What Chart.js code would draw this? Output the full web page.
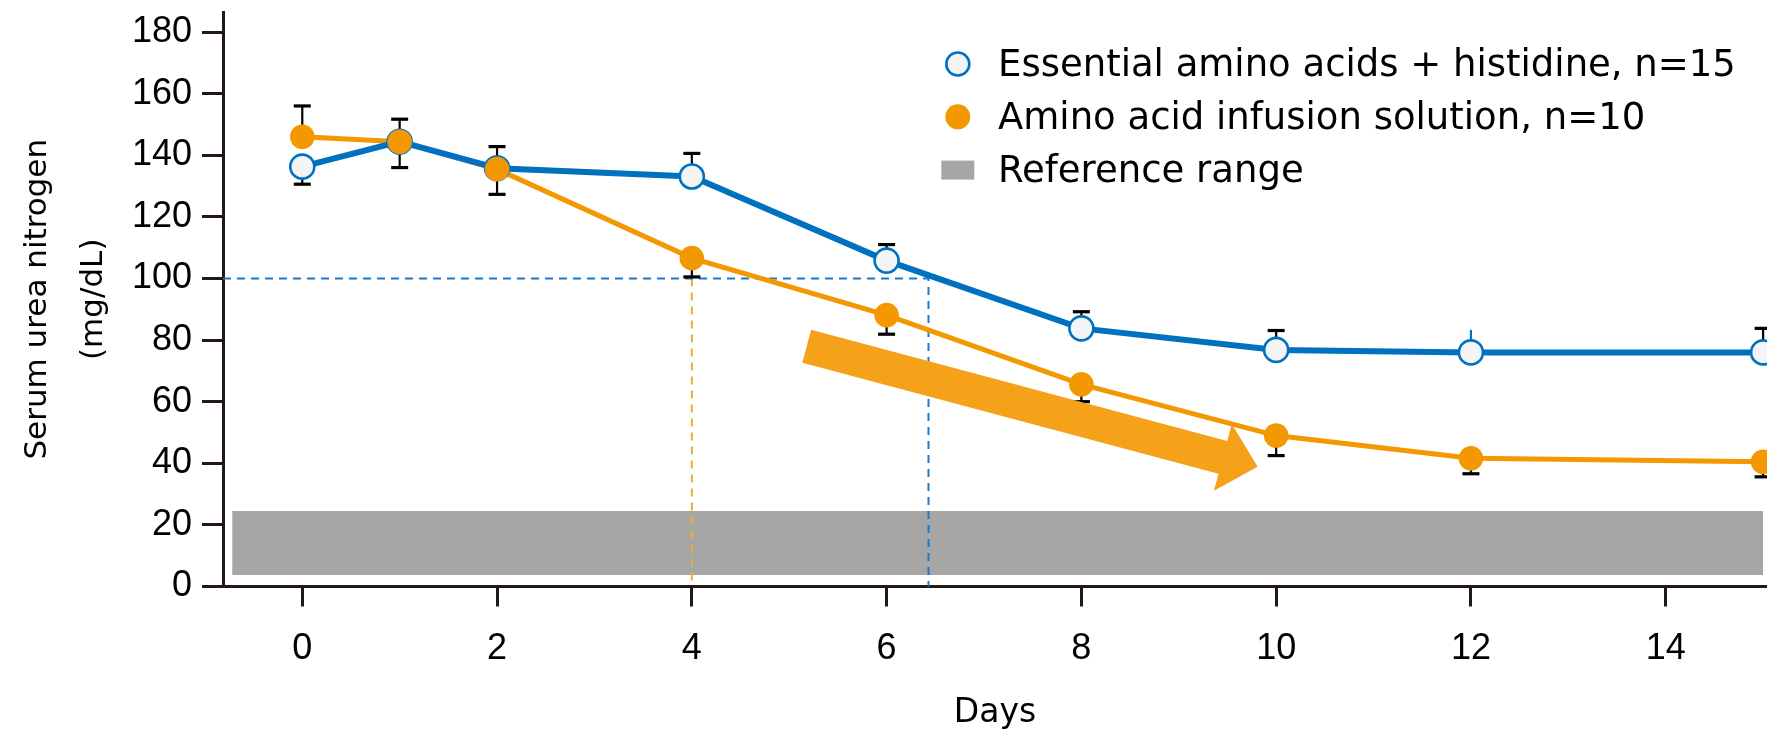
<!DOCTYPE html>
<html>
<head>
<meta charset="utf-8">
<script src="https://cdn.jsdelivr.net/npm/chart.js@4/dist/chart.umd.min.js"></script>
<style>
  html, body { margin: 0; padding: 0; background: #fff; }
  canvas { display: block; }
</style>
</head>
<body>
<canvas id="bun" width="1767" height="730"></canvas>
<script>
// Serum urea nitrogen (mg/dL) by day, mean with one-sided SD bars
const days = [0, 1, 2, 4, 6, 8, 10, 12, 15];
const eaaMean   = [136.3, 144.4, 135.8, 133.1, 105.8, 83.8, 76.8, 76.0, 76.0];
const eaaErrEnd = [130.6, 151.7, 142.8, 140.6, 111.0, 89.2, 83.1, 83.3, 83.8];
const aaMean    = [146.0, 144.4, 135.5, 106.6, 88.1, 65.6, 49.0, 41.6, 40.5];
const aaErrEnd  = [156.0, 136.0, 127.3, 100.5, 81.9, 60.0, 42.5, 36.6, 35.6];

// Reference range band (mg/dL) and the days it spans
const refRange = [3.7, 24.5];
const refDays = [-0.72, 15.0];

// Day at which each group falls to 100 mg/dL
const threshold = 100;
const eaaThresholdDay = 6.43;
const aaThresholdDay = 4.0;

const xTicks = [0, 2, 4, 6, 8, 10, 12, 14];
const yTicks = [0, 20, 40, 60, 80, 100, 120, 140, 160, 180];

const seriesLabels = [
  'Essential amino acids + histidine, n=15',
  'Amino acid infusion solution, n=10',
  'Reference range'
];
const axisTitles = { x: 'Days', y: ['Serum urea nitrogen', '(mg/dL)'] };

const BLUE = '#0070c0';
const ORANGE = '#f39800';
const GREY = '#a6a6a6';
const AXIS = '#231815';
const TICK_FONT = { family: "'Liberation Sans', Arial, sans-serif", size: 36, lineHeight: 1.2 };

Chart.defaults.font.family = "'DejaVu Sans', sans-serif";
Chart.defaults.color = '#000';

const pts = (xs, ys) => xs.map((x, i) => ({ x, y: ys[i] }));

// Vertical SD bars with a flat cap, drawn just before the orange line
const errorBars = {
  id: 'errorBars',
  beforeDatasetDraw(chart, args) {
    if (!chart.data.datasets[args.index].errorBarsBelow) return;
    const ys = chart.scales.y;
    const ctx = chart.ctx;
    ctx.save();
    chart.data.datasets.forEach((ds, i) => {
      if (!ds.errorEnds) return;
      const meta = chart.getDatasetMeta(i);
      meta.data.forEach((p, j) => {
        const yEnd = ys.getPixelForValue(ds.errorEnds[j]);
        const bare = ds.bareBars && ds.bareBars.includes(j);
        ctx.strokeStyle = bare ? ds.borderColor : '#000';
        ctx.lineWidth = 2.2;
        ctx.beginPath();
        ctx.moveTo(p.x, p.y);
        ctx.lineTo(p.x, yEnd);
        ctx.stroke();
        if (!bare) {
          ctx.lineWidth = 3.2;
          ctx.beginPath();
          ctx.moveTo(p.x - 8.5, yEnd);
          ctx.lineTo(p.x + 8.5, yEnd);
          ctx.stroke();
        }
      });
    });
    ctx.restore();
  }
};

// Broad trend arrow, anchored in data units
const trendArrow = {
  id: 'trendArrow',
  afterDatasetsDraw(chart, args, opts) {
    const { x: xs, y: ys } = chart.scales;
    const x0 = xs.getPixelForValue(opts.from[0]), y0 = ys.getPixelForValue(opts.from[1]);
    const x1 = xs.getPixelForValue(opts.to[0]),   y1 = ys.getPixelForValue(opts.to[1]);
    const L = Math.hypot(x1 - x0, y1 - y0);
    const ux = (x1 - x0) / L, uy = (y1 - y0) / L;
    const nx = -uy, ny = ux;
    const sw = 17, hw = 34.5, hl = 36;
    const bx = x1 - ux * hl, by = y1 - uy * hl;
    const ctx = chart.ctx;
    ctx.save();
    ctx.fillStyle = opts.color;
    ctx.beginPath();
    ctx.moveTo(x0 + nx * sw, y0 + ny * sw);
    ctx.lineTo(bx + nx * sw, by + ny * sw);
    ctx.lineTo(bx + nx * hw, by + ny * hw);
    ctx.lineTo(x1, y1);
    ctx.lineTo(bx - nx * hw, by - ny * hw);
    ctx.lineTo(bx - nx * sw, by - ny * sw);
    ctx.lineTo(x0 - nx * sw, y0 - ny * sw);
    ctx.closePath();
    ctx.fill();
    ctx.restore();
  }
};

// Key in the upper right of the plot
const keyBox = {
  id: 'keyBox',
  afterDraw(chart) {
    const ctx = chart.ctx;
    const mx = 957.8, tx = 998;
    const rows = [76, 128.8, 181.6];
    ctx.save();
    ctx.font = "37px 'DejaVu Sans', sans-serif";
    ctx.fillStyle = '#000';
    ctx.textAlign = 'left';
    ctx.textBaseline = 'alphabetic';
    seriesLabels.forEach((t, i) => ctx.fillText(t, tx, rows[i]));
    // open blue circle
    ctx.beginPath();
    ctx.arc(mx, rows[0] - 12, 11.5, 0, Math.PI * 2);
    ctx.fillStyle = '#f4f4f4';
    ctx.fill();
    ctx.lineWidth = 2.6;
    ctx.strokeStyle = BLUE;
    ctx.stroke();
    // filled orange circle
    ctx.beginPath();
    ctx.arc(mx, rows[1] - 12, 12.5, 0, Math.PI * 2);
    ctx.fillStyle = ORANGE;
    ctx.fill();
    // grey swatch
    ctx.fillStyle = GREY;
    ctx.fillRect(mx - 16.5, rows[2] - 21, 33, 19);
    ctx.restore();
  }
};

const noEdgePadding = s => { s.paddingTop = 0; s.paddingBottom = 0; s.paddingLeft = 0; s.paddingRight = 0; };

new Chart(document.getElementById('bun'), {
  type: 'line',
  data: {
    datasets: [
      {
        label: seriesLabels[2],
        data: pts(refDays, [refRange[1], refRange[1]]),
        fill: { value: refRange[0] },
        backgroundColor: GREY,
        borderWidth: 0,
        pointRadius: 0,
        order: 10
      },
      {
        label: 'orange-threshold',
        data: [{ x: aaThresholdDay, y: threshold }, { x: aaThresholdDay, y: 0 }],
        borderColor: '#f5a83a',
        borderWidth: 2,
        borderDash: [8, 6],
        pointRadius: 0,
        fill: false,
        order: 9
      },
      {
        label: 'blue-threshold',
        data: [{ x: -0.814, y: threshold }, { x: eaaThresholdDay, y: threshold }, { x: eaaThresholdDay, y: 0 }],
        borderColor: '#1a78cc',
        borderWidth: 2,
        borderDash: [8, 6],
        pointRadius: 0,
        fill: false,
        order: 8
      },
      {
        label: seriesLabels[1] + ' line',
        data: pts(days, aaMean),
        borderColor: ORANGE,
        borderWidth: 5,
        pointRadius: 0,
        fill: false,
        errorBarsBelow: true,
        order: 3
      },
      {
        label: seriesLabels[0],
        data: pts(days, eaaMean),
        errorEnds: eaaErrEnd,
        bareBars: [7],
        borderColor: BLUE,
        borderWidth: 6,
        pointRadius: 12,
        pointBorderWidth: 2.6,
        pointBorderColor: BLUE,
        pointBackgroundColor: '#f4f4f4',
        fill: false,
        order: 2
      },
      {
        label: seriesLabels[1],
        data: pts(days, aaMean),
        errorEnds: aaErrEnd,
        borderColor: ORANGE,
        showLine: false,
        pointRadius: 12.3,
        pointBorderWidth: 0,
        pointBackgroundColor: ORANGE,
        fill: false,
        order: 1
      }
    ]
  },
  options: {
    responsive: false,
    animation: false,
    events: [],
    layout: { autoPadding: false, padding: { top: 12, left: 0, right: 0, bottom: 0 } },
    plugins: {
      legend: { display: false },
      tooltip: { enabled: false },
      trendArrow: { from: [5.18, 78.0], to: [9.81, 38.9], color: '#f5a21a' }
    },
    scales: {
      x: {
        type: 'linear',
        min: -0.814,
        max: 15.04,
        afterBuildTicks: s => { s.ticks = xTicks.map(v => ({ value: v })); },
        afterFit: s => { s.height = 143.5; noEdgePadding(s); },
        grid: { display: true, drawOnChartArea: false, drawTicks: true, tickLength: 20, lineWidth: 3, color: AXIS },
        border: { display: true, width: 3, color: AXIS },
        ticks: { font: TICK_FONT, color: '#000', padding: 21, maxRotation: 0, autoSkip: false },
        title: { display: true, text: axisTitles.x, font: { size: 33, lineHeight: 1 }, color: '#000', padding: { top: 0, bottom: 0.5 } }
      },
      y: {
        type: 'linear',
        min: 0,
        max: 186.5,
        afterBuildTicks: s => { s.ticks = yTicks.map(v => ({ value: v })); },
        afterFit: s => { s.width = 223; noEdgePadding(s); },
        grid: { display: true, drawOnChartArea: false, drawTicks: true, tickLength: 21, lineWidth: 3, color: AXIS },
        border: { display: true, width: 3, color: AXIS },
        ticks: { font: TICK_FONT, color: '#000', padding: 10, autoSkip: false },
        title: { display: true, text: axisTitles.y, font: { size: 31, lineHeight: 1.8 }, color: '#000', padding: { top: 10, bottom: 0 } }
      }
    }
  },
  plugins: [errorBars, trendArrow, keyBox]
});
</script>
</body>
</html>
